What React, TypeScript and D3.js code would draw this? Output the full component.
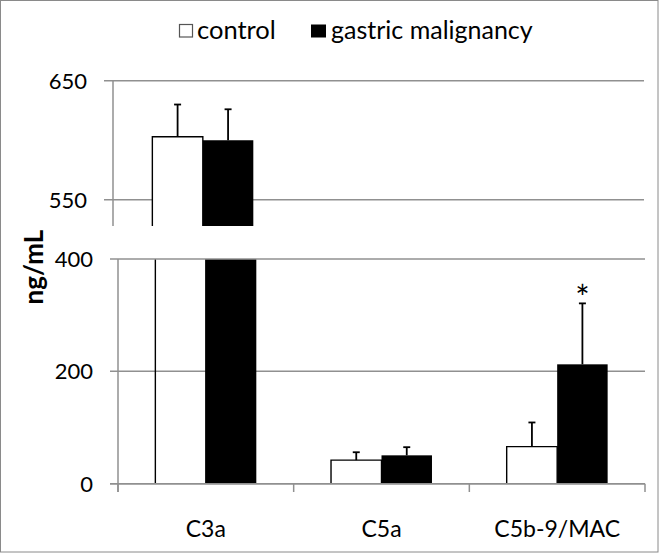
import React from "react";
import * as d3 from "d3";

// values (ng/mL)
const categories = ["C3a", "C5a", "C5b-9/MAC"];
const seriesNames = ["control", "gastric malignancy"];
const controlMeans = [603, 42, 66];
const controlErrors = [27, 14, 43];
const gastricMeans = [600, 50.5, 212.5];
const gastricErrors = [26, 14.5, 108.5];
const significant = [false, false, true];
const upperTicks = [550, 650];
const lowerTicks = [0, 200, 400];

const width = 659;
const height = 553;
const font = "Lato, 'Open Sans', sans-serif";
const gridColor = "#909090";

// broken axis: two panels stacked
const upperDomain: [number, number] = [528, 650];
const lowerDomain: [number, number] = [0, 400];

const App: React.FC = () => {
  const yUp = d3.scaleLinear().domain(upperDomain).range([226, 80.7]);
  const yLow = d3.scaleLinear().domain(lowerDomain).range([483.7, 259]);

  const xLow = d3.scaleBand<string>().domain(categories).range([118, 645]);
  const xUp = d3.scaleBand<string>().domain(categories).range([115, 645]);
  const inner = d3
    .scaleBand<string>()
    .domain(seriesNames)
    .range([0, xLow.bandwidth()])
    .paddingInner(0)
    .paddingOuter(0.74);

  const series = [
    { name: seriesNames[0], means: controlMeans, errors: controlErrors, fill: "#ffffff" },
    { name: seriesNames[1], means: gastricMeans, errors: gastricErrors, fill: "#000000" },
  ];

  const barPath = (x: number, w: number, top: number, bottom: number, withTop: boolean) =>
    withTop
      ? `M${x},${bottom}V${top}H${x + w}V${bottom}`
      : `M${x},${bottom}V${top}M${x + w},${top}V${bottom}`;

  const bars: React.ReactNode[] = [];
  const errs: React.ReactNode[] = [];

  categories.forEach((cat, ci) => {
    series.forEach((s, si) => {
      const v = s.means[ci];
      const e = s.errors[ci];
      const w = inner.bandwidth();
      const xl = (xLow(cat) ?? 0) + (inner(s.name) ?? 0);
      const xu = (xUp(cat) ?? 0) + (inner(s.name) ?? 0);
      const isCtrl = si === 0;
      // lower panel part
      const lowTop = yLow(Math.min(v, lowerDomain[1]));
      const clipped = v > lowerDomain[1];
      if (isCtrl) {
        bars.push(
          <path
            key={`l-${ci}-${si}`}
            d={barPath(xl, w, lowTop, yLow(0), !clipped)}
            fill={s.fill}
            stroke="#000"
            strokeWidth={1.4}
          />
        );
      } else {
        bars.push(
          <rect key={`l-${ci}-${si}`} x={xl} y={lowTop} width={w} height={yLow(0) - lowTop} fill={s.fill} />
        );
      }
      // upper panel part
      if (v > upperDomain[0]) {
        const top = yUp(v);
        const bottom = yUp(upperDomain[0]);
        if (isCtrl) {
          bars.push(
            <path
              key={`u-${ci}-${si}`}
              d={barPath(xu, w, top, bottom, true)}
              fill={s.fill}
              stroke="#000"
              strokeWidth={1.4}
            />
          );
        } else {
          bars.push(
            <rect key={`u-${ci}-${si}`} x={xu} y={top} width={w} height={bottom - top} fill={s.fill} />
          );
        }
      }
      // error bar in the panel the mean falls in
      const y = v > lowerDomain[1] ? yUp : yLow;
      const cx = (v > lowerDomain[1] ? xu : xl) + w / 2;
      errs.push(
        <g key={`e-${ci}-${si}`} stroke="#000" strokeWidth={1.8}>
          <line x1={cx} x2={cx} y1={y(v)} y2={y(v + e)} />
          <line x1={cx - 3.5} x2={cx + 3.5} y1={y(v + e)} y2={y(v + e)} />
        </g>
      );
      if (!isCtrl && significant[ci]) {
        errs.push(
          <text
            key={`s-${ci}`}
            x={cx}
            y={y(v + e) + 7}
            textAnchor="middle"
            fontFamily={font}
            fontSize={34}
            fill="#000"
          >
            *
          </text>
        );
      }
    });
  });

  const catTicks = [118, ...categories.map((c) => (xLow(c) ?? 0) + xLow.bandwidth())];

  return (
    <svg
      width={width}
      height={height}
      style={{ position: "absolute", left: 0, top: 0, background: "#fff" }}
    >
      <rect x={0.5} y={0.5} width={width - 1.5} height={height - 1.5} fill="#fff" stroke="#8a8a8a" />

      {/* legend */}
      <rect x={179.5} y={24.5} width={13} height={12.5} fill="#fff" stroke="#555" strokeWidth={1.2} />
      <text x={197} y={39} fontFamily={font} fontSize={25.5} fill="#000">
        {seriesNames[0]}
      </text>
      <rect x={311} y={24.5} width={15} height={13} fill="#000" />
      <text x={331} y={39} fontFamily={font} fontSize={25} fill="#000">
        {seriesNames[1]}
      </text>

      {/* upper panel grid + axis */}
      {upperTicks.map((t) => (
        <g key={`ut-${t}`}>
          <line x1={104} x2={644} y1={yUp(t)} y2={yUp(t)} stroke={gridColor} strokeWidth={1.5} />
          <text
            x={87}
            y={yUp(t)}
            dy="0.36em"
            textAnchor="end"
            fontFamily={font}
            fontSize={22}
            fill="#000"
          >
            {t}
          </text>
        </g>
      ))}
      <line x1={113} x2={113} y1={yUp(upperDomain[1])} y2={yUp(upperDomain[0])} stroke={gridColor} strokeWidth={1.5} />

      {/* lower panel grid + axis */}
      {lowerTicks.map((t) => (
        <g key={`lt-${t}`}>
          {t !== lowerDomain[1] && (
            <line x1={110} x2={645} y1={yLow(t)} y2={yLow(t)} stroke={gridColor} strokeWidth={1.5} />
          )}
          <text
            x={93}
            y={yLow(t)}
            dy="0.36em"
            textAnchor="end"
            fontFamily={font}
            fontSize={22}
            fill="#000"
          >
            {t}
          </text>
        </g>
      ))}
      <line x1={118} x2={118} y1={yLow(lowerDomain[1])} y2={492} stroke={gridColor} strokeWidth={1.5} />

      {bars}
      <line x1={110} x2={645} y1={yLow(lowerDomain[1])} y2={yLow(lowerDomain[1])} stroke={gridColor} strokeWidth={1.5} />
      <line x1={110} x2={645} y1={yLow(0)} y2={yLow(0)} stroke={gridColor} strokeWidth={1.5} />
      {catTicks.map((x, i) => (
        <line key={`ct-${i}`} x1={x} x2={x} y1={yLow(0)} y2={492} stroke={gridColor} strokeWidth={1.5} />
      ))}
      {errs}

      {/* category labels */}
      {categories.map((c) => (
        <text
          key={c}
          x={(xLow(c) ?? 0) + xLow.bandwidth() / 2}
          y={537}
          textAnchor="middle"
          fontFamily={font}
          fontSize={23}
          fill="#000"
        >
          {c}
        </text>
      ))}

      {/* y axis title */}
      <text
        transform="translate(43,267) rotate(-90)"
        textAnchor="middle"
        fontFamily={font}
        fontSize={26}
        fontWeight="bold"
        fill="#000"
      >
        ng/mL
      </text>
    </svg>
  );
};

export default App;
